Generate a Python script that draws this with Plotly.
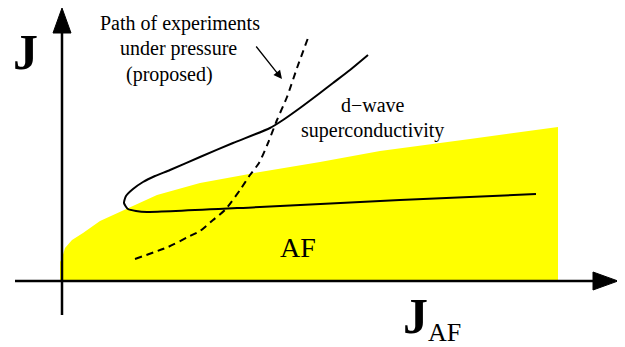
import plotly.graph_objects as go

# Schematic coordinates: origin at the axes crossing (J_AF = 0, J = 0)
# AF region (yellow) upper boundary
af_x = [-2, -2, 0, 3, 10, 21, 38, 55, 73, 95, 138, 198, 258, 318, 408, 496, 496]
af_y = [0, 19, 23, 33, 41, 48, 60, 68, 76, 86, 98, 109, 119, 130, 142, 154, 0]

# d-wave superconductivity boundary (solid curve)
sc_x = [306, 288, 271, 258, 238, 221, 208, 171, 138, 108, 93, 81, 71, 64, 62, 66, 74, 85, 198, 338, 474]
sc_y = [226, 211, 198, 188, 173, 161, 153, 138, 124, 111, 105, 99, 92, 85, 78, 72, 70, 69, 74, 81, 87]

# proposed path of experiments under pressure (dashed)
path_x = [73, 106, 126, 138, 151, 163, 178, 188, 197, 206, 215, 225, 235, 246]
path_y = [22, 34, 44, 50, 61, 71, 91, 106, 118, 138, 161, 184, 213, 243]

# axes
vaxis_x = [0, 0]
vaxis_y = [-34, 250]
vhead_x = [-9, 9, 0, -9]
vhead_y = [248, 248, 273, 248]
haxis_x = [-47, 533]
haxis_y = [0, 0]
hhead_x = [531, 531, 556, 531]
hhead_y = [9, -9, 0, 9]

FONT = "Liberation Serif"

fig = go.Figure()
fig.add_trace(go.Scatter(x=af_x, y=af_y, fill="toself", fillcolor="#ffff00",
                         line=dict(width=0, color="#ffff00"), mode="lines",
                         hoverinfo="skip"))
fig.add_trace(go.Scatter(x=sc_x, y=sc_y, mode="lines",
                         line=dict(color="black", width=2, shape="spline", smoothing=0.6)))
fig.add_trace(go.Scatter(x=path_x, y=path_y, mode="lines",
                         line=dict(color="black", width=2, dash="7px,5px", shape="spline", smoothing=0.6)))
fig.add_trace(go.Scatter(x=vaxis_x, y=vaxis_y, mode="lines", line=dict(color="black", width=2.5)))
fig.add_trace(go.Scatter(x=haxis_x, y=haxis_y, mode="lines", line=dict(color="black", width=2.5)))
fig.add_trace(go.Scatter(x=vhead_x, y=vhead_y, mode="lines", fill="toself", fillcolor="black",
                         line=dict(color="black", width=1)))
fig.add_trace(go.Scatter(x=hhead_x, y=hhead_y, mode="lines", fill="toself", fillcolor="black",
                         line=dict(color="black", width=1)))

def txt(x, y, t, size, bold=False):
    fig.add_annotation(x=x, y=y, text=("<b>%s</b>" % t) if bold else t, showarrow=False,
                       font=dict(family=FONT, size=size, color="black"),
                       xanchor="center", yanchor="middle")

txt(-37, 229, "J", 50, bold=True)
txt(353, -35, "J", 50, bold=True)
txt(382, -51, "AF", 26)
txt(118, 258, "Path of experiments", 20)
txt(116, 233, "under pressure", 20)
txt(107, 207, "(proposed)", 20)
txt(311, 176, "d\u2212wave", 20)
txt(310, 151, "superconductivity", 20)
txt(236, 34, "AF", 28)

fig.add_annotation(x=220, y=202, ax=193, ay=236, axref="x", ayref="y", xref="x", yref="y",
                   text="", showarrow=True, arrowhead=2, arrowsize=1.3, arrowwidth=1.3,
                   arrowcolor="black")

# the page body adds an 8px offset, so the figure is 8px smaller and its range starts 8 units in
fig.update_layout(width=617, height=339, margin=dict(l=0, r=0, t=0, b=0),
                  showlegend=False, plot_bgcolor="white", paper_bgcolor="white",
                  xaxis=dict(range=[-54, 563], visible=False, fixedrange=True),
                  yaxis=dict(range=[-66, 273], visible=False, fixedrange=True))
fig.write_html("out.html")
